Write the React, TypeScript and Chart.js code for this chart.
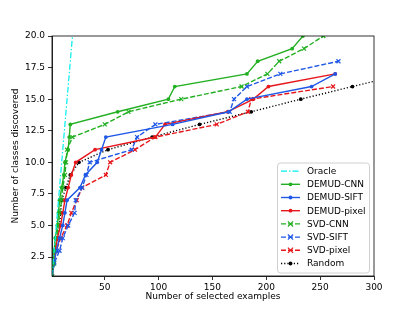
import React, { useEffect, useRef } from "react";
import { Chart, registerables } from "chart.js";
Chart.register(...registerables);

const FONT = "'DejaVu Sans', sans-serif";

// ---- data ----
const oracleX = [1, 20];
const oracleY = [1, 20];

const demudCnnX = [1, 2, 3, 4, 6, 7, 8, 10, 12, 13, 16, 17, 18, 62, 109, 115, 182, 192, 224, 234];
const demudCnnY = [1, 2, 3, 4, 5, 6, 7, 8, 9, 10, 11, 12, 13, 14, 15, 16, 17, 18, 19, 20];

const demudSiftX = [1, 3, 5, 8, 11, 13, 15, 27, 32, 43, 47, 51, 113, 165, 182, 242, 264];
const demudSiftY = [1, 2, 3, 4, 5, 6, 7, 8, 9, 10, 11, 12, 13, 14, 15, 16, 17];

const demudPixelX = [1, 2, 4, 6, 9, 11, 13, 16, 19, 23, 41, 97, 106, 164, 188, 202, 264];
const demudPixelY = [1, 2, 3, 4, 5, 6, 7, 8, 9, 10, 11, 12, 13, 14, 15, 16, 17];

const svdCnnX = [1, 3, 4, 5, 7, 8, 10, 11, 13, 14, 15, 20, 50, 72, 121, 177, 201, 212, 235, 253];
const svdCnnY = [1, 2, 3, 4, 5, 6, 7, 8, 9, 10, 11, 12, 13, 14, 15, 16, 17, 18, 19, 20];

const svdSiftX = [1, 3, 8, 11, 16, 22, 23, 29, 33, 36, 75, 80, 97, 166, 170, 182, 213, 267];
const svdSiftY = [1, 2, 3, 4, 5, 6, 7, 8, 9, 10, 11, 12, 13, 14, 15, 16, 17, 18];

const svdPixelX = [1, 2, 5, 9, 15, 19, 24, 29, 51, 55, 78, 97, 154, 183, 186, 262];
const svdPixelY = [1, 2, 3, 4, 5, 6, 7, 8, 9, 10, 11, 12, 13, 14, 15, 16];

const randomX = [1, 3, 4, 6, 8, 9, 10, 14, 18, 26, 53, 94, 138, 186, 232, 280, 328];
const randomY = [1, 2, 3, 4, 5, 6, 7, 8, 9, 10, 11, 12, 13, 14, 15, 16, 17];

const xTicks = [50, 100, 150, 200, 250, 300];
const yTicks = [2.5, 5, 7.5, 10, 12.5, 15, 17.5, 20];

const GREEN = "#22b022";
const BLUE = "#1f58e6";
const RED = "#e6161a";
const CYAN = "#00eeee";

const pts = (xs: number[], ys: number[]) => xs.map((x, i) => ({ x, y: ys[i] }));

type Marker = "none" | "dot" | "x";
const series: { label: string; xs: number[]; ys: number[]; color: string; dash: number[]; marker: Marker }[] = [
  { label: "Oracle", xs: oracleX, ys: oracleY, color: CYAN, dash: [6, 2, 1.5, 2], marker: "none" },
  { label: "DEMUD-CNN", xs: demudCnnX, ys: demudCnnY, color: GREEN, dash: [], marker: "dot" },
  { label: "DEMUD-SIFT", xs: demudSiftX, ys: demudSiftY, color: BLUE, dash: [], marker: "dot" },
  { label: "DEMUD-pixel", xs: demudPixelX, ys: demudPixelY, color: RED, dash: [], marker: "dot" },
  { label: "SVD-CNN", xs: svdCnnX, ys: svdCnnY, color: GREEN, dash: [5, 2], marker: "x" },
  { label: "SVD-SIFT", xs: svdSiftX, ys: svdSiftY, color: BLUE, dash: [5, 2], marker: "x" },
  { label: "SVD-pixel", xs: svdPixelX, ys: svdPixelY, color: RED, dash: [5, 2], marker: "x" },
  { label: "Random", xs: randomX, ys: randomY, color: "#000000", dash: [1.2, 2], marker: "dot" },
];

function drawMarker(ctx: CanvasRenderingContext2D, m: Marker, x: number, y: number, color: string) {
  ctx.save();
  ctx.setLineDash([]);
  if (m === "dot") {
    ctx.fillStyle = color;
    ctx.beginPath();
    ctx.arc(x, y, 1.9, 0, Math.PI * 2);
    ctx.fill();
  } else if (m === "x") {
    ctx.strokeStyle = color;
    ctx.lineWidth = 1.2;
    const r = 2.6;
    ctx.beginPath();
    ctx.moveTo(x - r, y - r);
    ctx.lineTo(x + r, y + r);
    ctx.moveTo(x - r, y + r);
    ctx.lineTo(x + r, y - r);
    ctx.stroke();
  }
  ctx.restore();
}

const framePlugin = {
  id: "frame",
  afterDraw(chart: any) {
    const ctx: CanvasRenderingContext2D = chart.ctx;
    const { left, right, top, bottom } = chart.chartArea;
    ctx.save();
    ctx.strokeStyle = "#000";
    ctx.lineWidth = 0.8;
    ctx.strokeRect(left, top, right - left, bottom - top);

    // legend
    const boxW = 92;
    const boxH = 110;
    const boxR = right - 5;
    const boxB = bottom - 3.5;
    const bx = boxR - boxW;
    const by = boxB - boxH;
    ctx.beginPath();
    (ctx as any).roundRect(bx + 0.5, by + 0.5, boxW, boxH, 3);
    ctx.fillStyle = "rgba(255,255,255,0.85)";
    ctx.fill();
    ctx.strokeStyle = "#d0d0d0";
    ctx.lineWidth = 1;
    ctx.stroke();
    ctx.font = `9px ${FONT}`;
    ctx.textBaseline = "middle";
    ctx.textAlign = "left";
    series.forEach((s, i) => {
      const y = by + 8.6 + i * 13.2;
      const x0 = bx + 4;
      const x1 = bx + 23;
      ctx.strokeStyle = s.color;
      ctx.lineWidth = s.label === "Oracle" ? 1.2 : 1.4;
      ctx.setLineDash(s.dash);
      ctx.beginPath();
      ctx.moveTo(x0, y);
      ctx.lineTo(x1, y);
      ctx.stroke();
      ctx.setLineDash([]);
      drawMarker(ctx, s.marker, (x0 + x1) / 2, y, s.color);
      ctx.fillStyle = "#000";
      ctx.fillText(s.label, bx + 30, y + 0.5);
    });
    ctx.restore();
  },
};

export default function App() {
  const ref = useRef<HTMLCanvasElement>(null);
  useEffect(() => {
    const datasets = series.map((s) => ({
      label: s.label,
      data: pts(s.xs, s.ys),
      borderColor: s.color,
      backgroundColor: s.color,
      borderWidth: s.label === "Oracle" ? 1.2 : 1.4,
      borderDash: s.dash,
      showLine: true,
      fill: false,
      tension: 0,
      pointStyle: s.marker === "x" ? "crossRot" : "circle",
      pointRadius: s.marker === "none" ? 0 : s.marker === "x" ? 2.8 : 1.9,
      pointBorderWidth: s.marker === "x" ? 1.2 : 0,
      pointBorderColor: s.color,
      pointBackgroundColor: s.color,
      order: 0,
    }));
    const tickFont = { family: FONT, size: 9 };
    const chart = new Chart(ref.current!, {
      type: "scatter",
      data: { datasets: datasets as any },
      plugins: [framePlugin],
      options: {
        animation: false,
        responsive: false,
        layout: { padding: { left: 0, top: 36, right: 41, bottom: 0 } },
        plugins: { legend: { display: false }, tooltip: { enabled: false } },
        scales: {
          x: {
            type: "linear",
            min: 1,
            max: 300,
            afterFit: (s: any) => {
              s.height = 35;
            },
            afterBuildTicks: (s: any) => {
              s.ticks = xTicks.map((v) => ({ value: v }));
            },
            ticks: { font: tickFont, color: "#000", padding: 2, maxRotation: 0, callback: (v: any) => String(v) },
            grid: { display: true, drawOnChartArea: false, drawTicks: true, tickLength: 4, color: "#000", lineWidth: 0.8 },
            border: { display: true, color: "#000", width: 0.8 },
            title: { display: true, text: "Number of selected examples", font: tickFont, color: "#000", padding: { top: 0, bottom: 8.5 } },
          },
          y: {
            type: "linear",
            min: 1,
            max: 20,
            afterFit: (s: any) => {
              s.width = 52;
            },
            afterBuildTicks: (s: any) => {
              s.ticks = yTicks.map((v) => ({ value: v }));
            },
            ticks: { font: tickFont, color: "#000", padding: 3, callback: (v: any) => Number(v).toFixed(1) },
            grid: { display: true, drawOnChartArea: false, drawTicks: true, tickLength: 4, color: "#000", lineWidth: 0.8 },
            border: { display: true, color: "#000", width: 0.8 },
            title: { display: true, text: "Number of classes discovered", font: tickFont, color: "#000", padding: { top: 10.5, bottom: 0 } },
          },
        },
      },
    } as any);
    return () => chart.destroy();
  }, []);
  return (
    <div style={{ position: "fixed", left: 0, top: 0, width: 415, height: 311, background: "#fff" }}>
      <canvas ref={ref} width={415} height={311} style={{ display: "block" }} />
    </div>
  );
}
